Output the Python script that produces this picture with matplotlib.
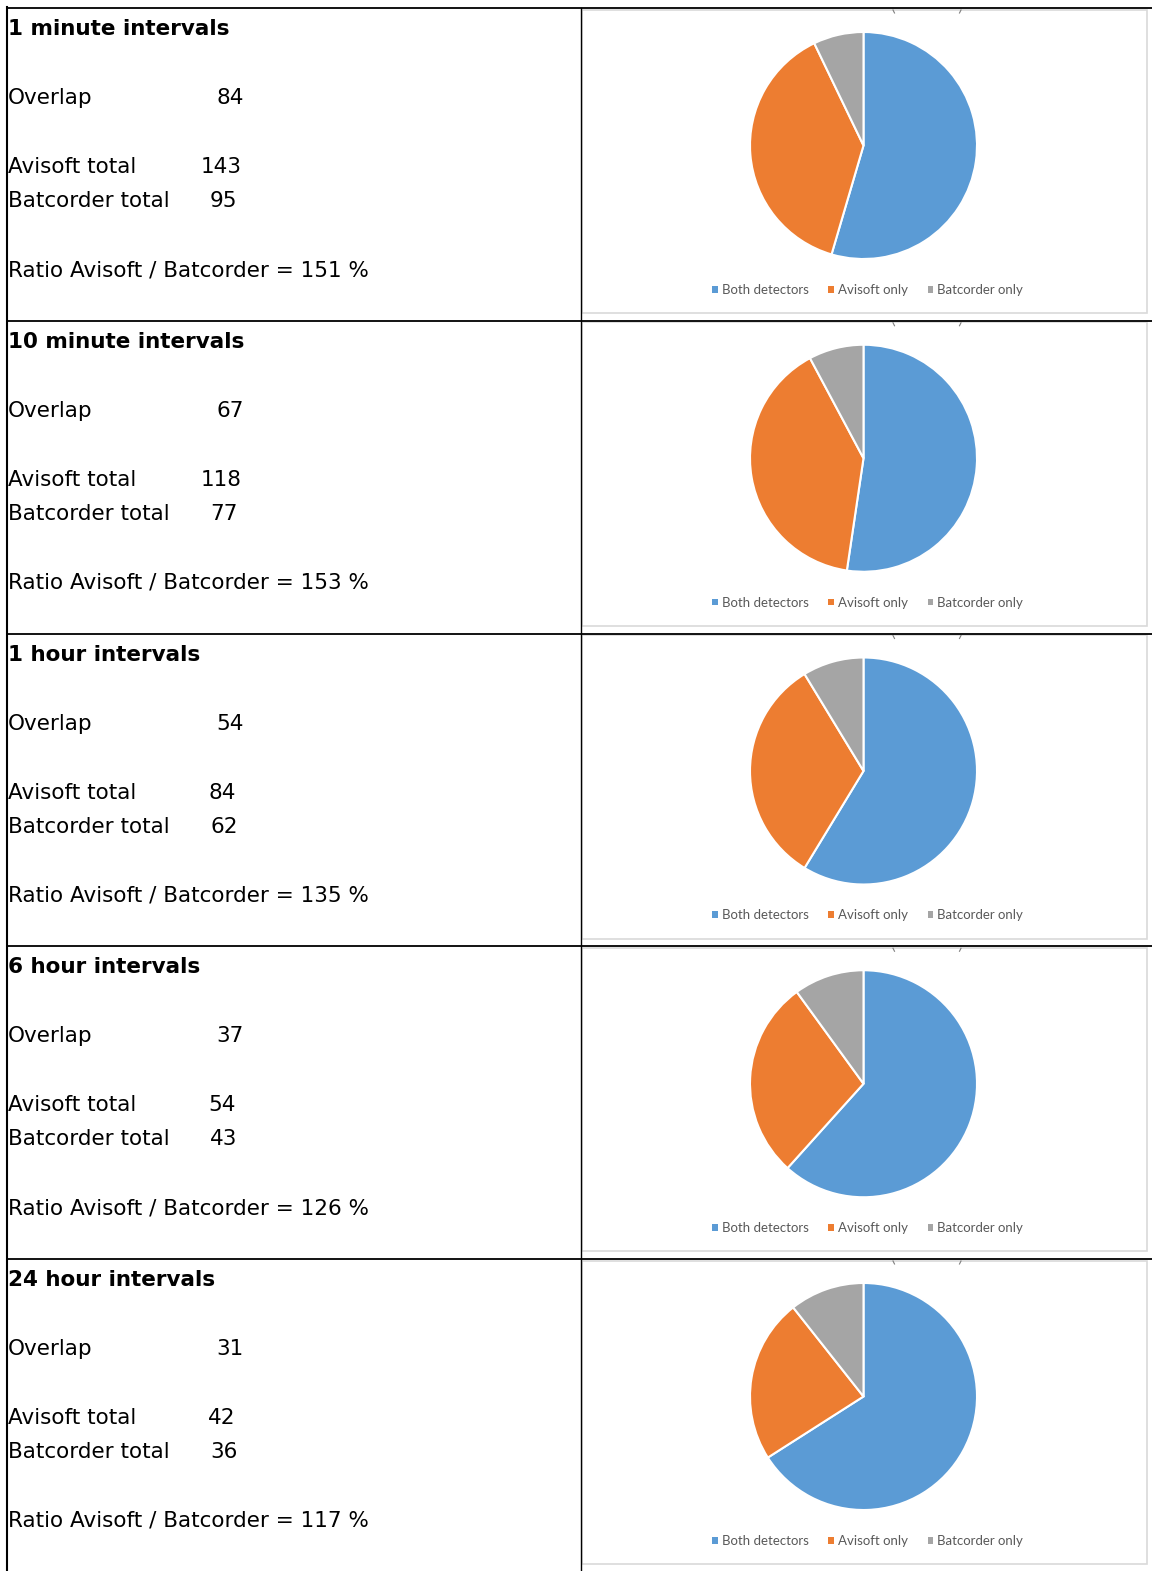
import matplotlib
matplotlib.use("Agg")
import matplotlib.pyplot as plt
from matplotlib.patches import Rectangle, Patch

# ---- data ----
titles = ["1 minute intervals", "10 minute intervals", "1 hour intervals",
          "6 hour intervals", "24 hour intervals"]
overlap = [84, 67, 54, 37, 31]
avisoft_total = [143, 118, 84, 54, 42]
batcorder_total = [95, 77, 62, 43, 36]
ratio_pct = [151, 153, 135, 126, 117]
both_detectors = [84, 67, 54, 37, 31]
avisoft_only = [59, 51, 30, 17, 11]
batcorder_only = [11, 10, 8, 6, 5]
slice_labels = ["Both detectors", "Avisoft only", "Batcorder only"]
slice_colors = ["#5B9BD5", "#ED7D31", "#A5A5A5"]

W, H = 1152, 1571
fig = plt.figure(figsize=(W / 100, H / 100), dpi=100)
bg = fig.add_axes([0, 0, 1, 1])
bg.set_xlim(0, W)
bg.set_ylim(H, 0)
bg.axis("off")

row_top0 = 8
row_h = 312.75
font = "DejaVu Sans"
fs = 15.5

for i in range(5):
    top = row_top0 + i * row_h
    # chart panel border
    bg.add_patch(Rectangle((581.5, top + 1.5), 565, 303.5, fill=False,
                           edgecolor="#d9d9d9", lw=1.2, zorder=1))
    # cropped title marks
    bg.plot([893, 894.5], [top + 2, top + 5], color="#7f7f7f", lw=0.8)
    bg.plot([961, 959.5], [top + 2, top + 5], color="#7f7f7f", lw=0.8)
    # black row separator
    bg.plot([6, W], [top, top], color="black", lw=1.3, zorder=3,
            solid_capstyle="butt")

    # left text
    bg.text(8, top + 21, titles[i], fontsize=fs, fontweight="bold",
            family=font, va="center", ha="left")
    bg.text(8, top + 90, "Overlap", fontsize=fs, family=font, va="center")
    bg.text(216, top + 90, str(overlap[i]), fontsize=fs, family=font, va="center")
    bg.text(8, top + 159, "Avisoft total", fontsize=fs, family=font, va="center")
    bg.text(201 if avisoft_total[i] >= 100 else 208, top + 159,
            str(avisoft_total[i]), fontsize=fs, family=font, va="center")
    bg.text(8, top + 193, "Batcorder total", fontsize=fs, family=font, va="center")
    bg.text(210, top + 193, str(batcorder_total[i]), fontsize=fs, family=font,
            va="center")
    bg.text(8, top + 262, f"Ratio Avisoft / Batcorder = {ratio_pct[i]} %",
            fontsize=fs, family=font, va="center")

    # pie
    cx, cy, r = 863.5, top + 137.5, 113.5
    pax = fig.add_axes([(cx - r) / W, 1 - (cy + r) / H, 2 * r / W, 2 * r / H])
    wedges, _ = pax.pie([both_detectors[i], avisoft_only[i], batcorder_only[i]],
                        colors=slice_colors, startangle=90, counterclock=False,
                        radius=1.0,
                        wedgeprops=dict(edgecolor="white", linewidth=1.5))
    pax.set_xlim(-1.0, 1.0)
    pax.set_ylim(-1.0, 1.0)
    pax.set_aspect("auto")
    pax.axis("off")

    handles = [Patch(facecolor=c, edgecolor="none") for c in slice_colors]
    fig.legend(handles, slice_labels, loc="center",
               bbox_to_anchor=(867.5 / W, 1 - (top + 282) / H), ncol=3,
               frameon=False, handlelength=0.42, handleheight=0.42,
               handletextpad=0.3, columnspacing=1.5,
               labelcolor="#595959", prop=dict(family="Lato", size=9.5))

# left border and vertical divider
bg.plot([7, 7], [row_top0 - 1, H], color="black", lw=1.5, zorder=3)
bg.plot([580.5, 580.5], [row_top0, H], color="black", lw=1.0, zorder=3)

fig.savefig("out.png", dpi=100)
